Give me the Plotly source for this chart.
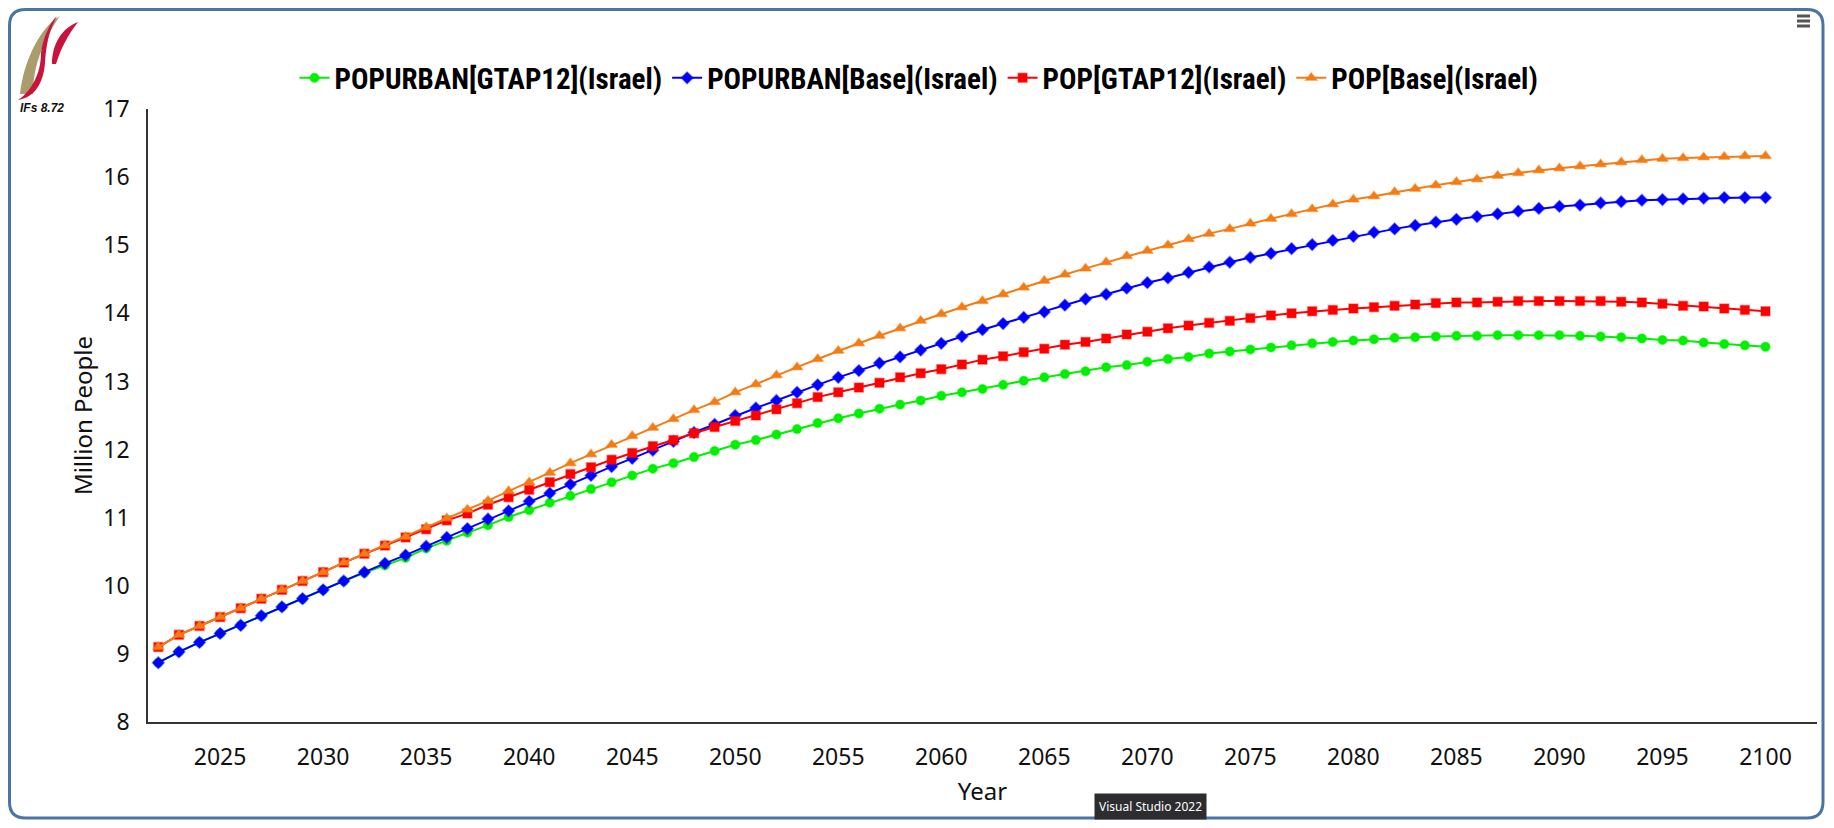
import plotly.graph_objects as go

# years on the x axis
years = list(range(2022, 2101))

# million people
popurban_gtap12 = [8.87, 9.03, 9.17, 9.30, 9.42, 9.56, 9.69, 9.81, 9.94, 10.07,
                   10.19, 10.30, 10.41, 10.55, 10.66, 10.78, 10.89, 11.01, 11.11, 11.22,
                   11.32, 11.42, 11.52, 11.62, 11.72, 11.80, 11.89, 11.98, 12.07, 12.14,
                   12.22, 12.30, 12.39, 12.46, 12.53, 12.60, 12.66, 12.72, 12.79, 12.84,
                   12.89, 12.95, 13.01, 13.06, 13.11, 13.15, 13.21, 13.24, 13.29, 13.33,
                   13.36, 13.41, 13.44, 13.47, 13.50, 13.53, 13.56, 13.58, 13.60, 13.62,
                   13.64, 13.65, 13.66, 13.67, 13.67, 13.68, 13.68, 13.68, 13.68, 13.67,
                   13.66, 13.65, 13.63, 13.61, 13.60, 13.57, 13.55, 13.53, 13.51]

popurban_base = [8.87, 9.03, 9.17, 9.30, 9.42, 9.56, 9.69, 9.81, 9.94, 10.07,
                 10.20, 10.33, 10.45, 10.58, 10.71, 10.84, 10.98, 11.10, 11.24, 11.36,
                 11.49, 11.62, 11.75, 11.87, 11.99, 12.12, 12.25, 12.37, 12.50, 12.61,
                 12.72, 12.84, 12.95, 13.06, 13.16, 13.27, 13.36, 13.46, 13.56, 13.66,
                 13.76, 13.85, 13.94, 14.02, 14.12, 14.21, 14.28, 14.37, 14.45, 14.52,
                 14.60, 14.68, 14.75, 14.82, 14.88, 14.95, 15.01, 15.07, 15.13, 15.19,
                 15.24, 15.29, 15.34, 15.38, 15.42, 15.46, 15.50, 15.54, 15.57, 15.59,
                 15.62, 15.64, 15.66, 15.67, 15.68, 15.69, 15.70, 15.70, 15.70]

pop_gtap12 = [9.10, 9.28, 9.41, 9.54, 9.67, 9.81, 9.94, 10.07, 10.20, 10.34,
              10.47, 10.59, 10.71, 10.83, 10.96, 11.06, 11.19, 11.30, 11.41, 11.52,
              11.64, 11.74, 11.85, 11.95, 12.05, 12.14, 12.24, 12.33, 12.42, 12.50,
              12.59, 12.68, 12.77, 12.84, 12.91, 12.98, 13.06, 13.12, 13.18, 13.25,
              13.32, 13.37, 13.43, 13.48, 13.54, 13.58, 13.63, 13.69, 13.73, 13.78,
              13.82, 13.86, 13.89, 13.93, 13.97, 14.00, 14.03, 14.05, 14.07, 14.09,
              14.11, 14.13, 14.15, 14.16, 14.16, 14.17, 14.18, 14.18, 14.18, 14.18,
              14.18, 14.17, 14.16, 14.14, 14.11, 14.10, 14.07, 14.05, 14.03]

pop_base = [9.10, 9.28, 9.41, 9.54, 9.67, 9.81, 9.94, 10.07, 10.20, 10.34,
            10.47, 10.59, 10.72, 10.86, 10.99, 11.12, 11.25, 11.39, 11.52, 11.66,
            11.80, 11.93, 12.07, 12.20, 12.32, 12.45, 12.58, 12.70, 12.84, 12.96,
            13.09, 13.21, 13.33, 13.45, 13.56, 13.67, 13.78, 13.89, 13.99, 14.09,
            14.18, 14.28, 14.38, 14.48, 14.57, 14.66, 14.75, 14.84, 14.92, 15.00,
            15.09, 15.17, 15.24, 15.32, 15.39, 15.46, 15.53, 15.60, 15.67, 15.72,
            15.78, 15.83, 15.88, 15.93, 15.97, 16.02, 16.06, 16.10, 16.13, 16.16,
            16.19, 16.22, 16.25, 16.27, 16.28, 16.29, 16.30, 16.31, 16.31]

series_names = ["POPURBAN[GTAP12](Israel)", "POPURBAN[Base](Israel)",
                "POP[GTAP12](Israel)", "POP[Base](Israel)"]

W, H = 1818, 812
L, R, T, B = 140, 9, 101, 98
pw, ph = W - L - R, H - T - B


def px(x):
    return (x - L) / pw


def py(y):
    return (H - B - y) / ph


styles = [
    ("#00F000", "rgba(0,240,0,0.45)", "circle", 9),
    ("#0000FF", "rgba(0,0,255,0.45)", "diamond", 9),
    ("#FF0000", "rgba(255,0,0,0.4)", "square", 9),
    ("#F57B12", "rgba(245,123,18,0.45)", "triangle-up", 10),
]

fig = go.Figure()
for name, vals, (col, edge, sym, size) in zip(
        series_names, [popurban_gtap12, popurban_base, pop_gtap12, pop_base], styles):
    fig.add_trace(go.Scatter(
        x=years, y=vals, name=name, mode="lines+markers",
        line=dict(color=col, width=2),
        marker=dict(symbol=sym, size=size, color=col, line=dict(color=edge, width=1.5)),
    ))

tick_font = dict(family="Noto Sans, Open Sans, sans-serif", size=23, color="#111")
title_font = dict(family="Noto Sans, sans-serif", size=24, color="#111")

fig.update_layout(
    width=W, height=H,
    margin=dict(l=L, r=R, t=T, b=B),
    paper_bgcolor="white", plot_bgcolor="white",
    font=dict(family="Noto Sans, sans-serif", color="#111"),
    showlegend=True,
    legend=dict(
        orientation="h", x=px(911), y=py(70), xanchor="center", yanchor="middle",
        font=dict(family="Liberation Sans Narrow, Arial Narrow, Roboto Condensed, sans-serif",
                  size=29, color="black", weight="bold"),
        itemwidth=30, tracegroupgap=0,
    ),
    xaxis=dict(
        range=[2021.5, 2102.5], tick0=2025, dtick=5, showgrid=False, zeroline=False,
        showline=True, linecolor="#333", linewidth=1.5, ticks="",
        tickfont=tick_font, ticklabelstandoff=14,
        title=dict(text="Year", font=title_font, standoff=12),
    ),
    yaxis=dict(
        range=[8, 17], dtick=1, showgrid=False, zeroline=False,
        showline=True, linecolor="#333", linewidth=1.5, ticks="",
        tickfont=tick_font, ticklabelstandoff=12,
        title=dict(text="Million People", font=title_font, standoff=4),
    ),
)

# rounded frame around the widget
x0, x1, y0, y1, r = 1.5, 1815, 1.5, 810, 16
frame = (f"M{px(x0 + r)},{py(y0)} L{px(x1 - r)},{py(y0)} Q{px(x1)},{py(y0)} {px(x1)},{py(y0 + r)} "
         f"L{px(x1)},{py(y1 - r)} Q{px(x1)},{py(y1)} {px(x1 - r)},{py(y1)} "
         f"L{px(x0 + r)},{py(y1)} Q{px(x0)},{py(y1)} {px(x0)},{py(y1 - r)} "
         f"L{px(x0)},{py(y0 + r)} Q{px(x0)},{py(y0)} {px(x0 + r)},{py(y0)} Z")
fig.add_shape(type="path", path=frame, xref="paper", yref="paper",
              line=dict(color="#4A74A8", width=3), layer="above")

# logo swooshes
tan = (f"M{px(12)},{py(86)} C{px(16)},{py(50)} {px(34)},{py(18)} {px(52)},{py(8)} "
       f"C{px(38)},{py(28)} {px(25)},{py(55)} {px(25)},{py(86)} Z")
red1 = (f"M{px(10)},{py(92)} C{px(17)},{py(88)} {px(33)},{py(72)} {px(33)},{py(45)} "
        f"C{px(35)},{py(30)} {px(42)},{py(14)} {px(49)},{py(8)} "
        f"C{px(40)},{py(24)} {px(38)},{py(40)} {px(37)},{py(55)} "
        f"C{px(35)},{py(80)} {px(23)},{py(90)} {px(10)},{py(92)} Z")
red2 = (f"M{px(44)},{py(56)} C{px(44)},{py(36)} {px(54)},{py(20)} {px(70)},{py(14)} "
        f"C{px(60)},{py(27)} {px(53)},{py(40)} {px(48)},{py(56)} Z")
fig.add_shape(type="path", path=tan, xref="paper", yref="paper",
              fillcolor="#AA9C6C", line=dict(width=0))
fig.add_shape(type="path", path=red1, xref="paper", yref="paper",
              fillcolor="#C8143C", line=dict(width=0))
fig.add_shape(type="path", path=red2, xref="paper", yref="paper",
              fillcolor="#C8143C", line=dict(width=0))
fig.add_annotation(text="<i><b>IFs 8.72</b></i>", x=px(10), y=py(100), xref="paper", yref="paper",
                   xanchor="left", yanchor="middle", showarrow=False,
                   font=dict(family="Liberation Sans Narrow, Arial Narrow, sans-serif", size=12, color="#111"))

# menu icon top right
for yy in (8, 13, 18):
    fig.add_shape(type="line", x0=px(1789), x1=px(1802), y0=py(yy), y1=py(yy),
                  xref="paper", yref="paper", line=dict(color="#555", width=3))

# tooltip seen at bottom of screenshot
fig.add_annotation(text="Visual Studio 2022", x=px(1142), y=py(812), xref="paper", yref="paper",
                   xanchor="center", yanchor="bottom", showarrow=False, bgcolor="#2D2D30",
                   borderpad=4, font=dict(family="Noto Sans, sans-serif", size=12, color="white"))

fig.write_html("out.html")
